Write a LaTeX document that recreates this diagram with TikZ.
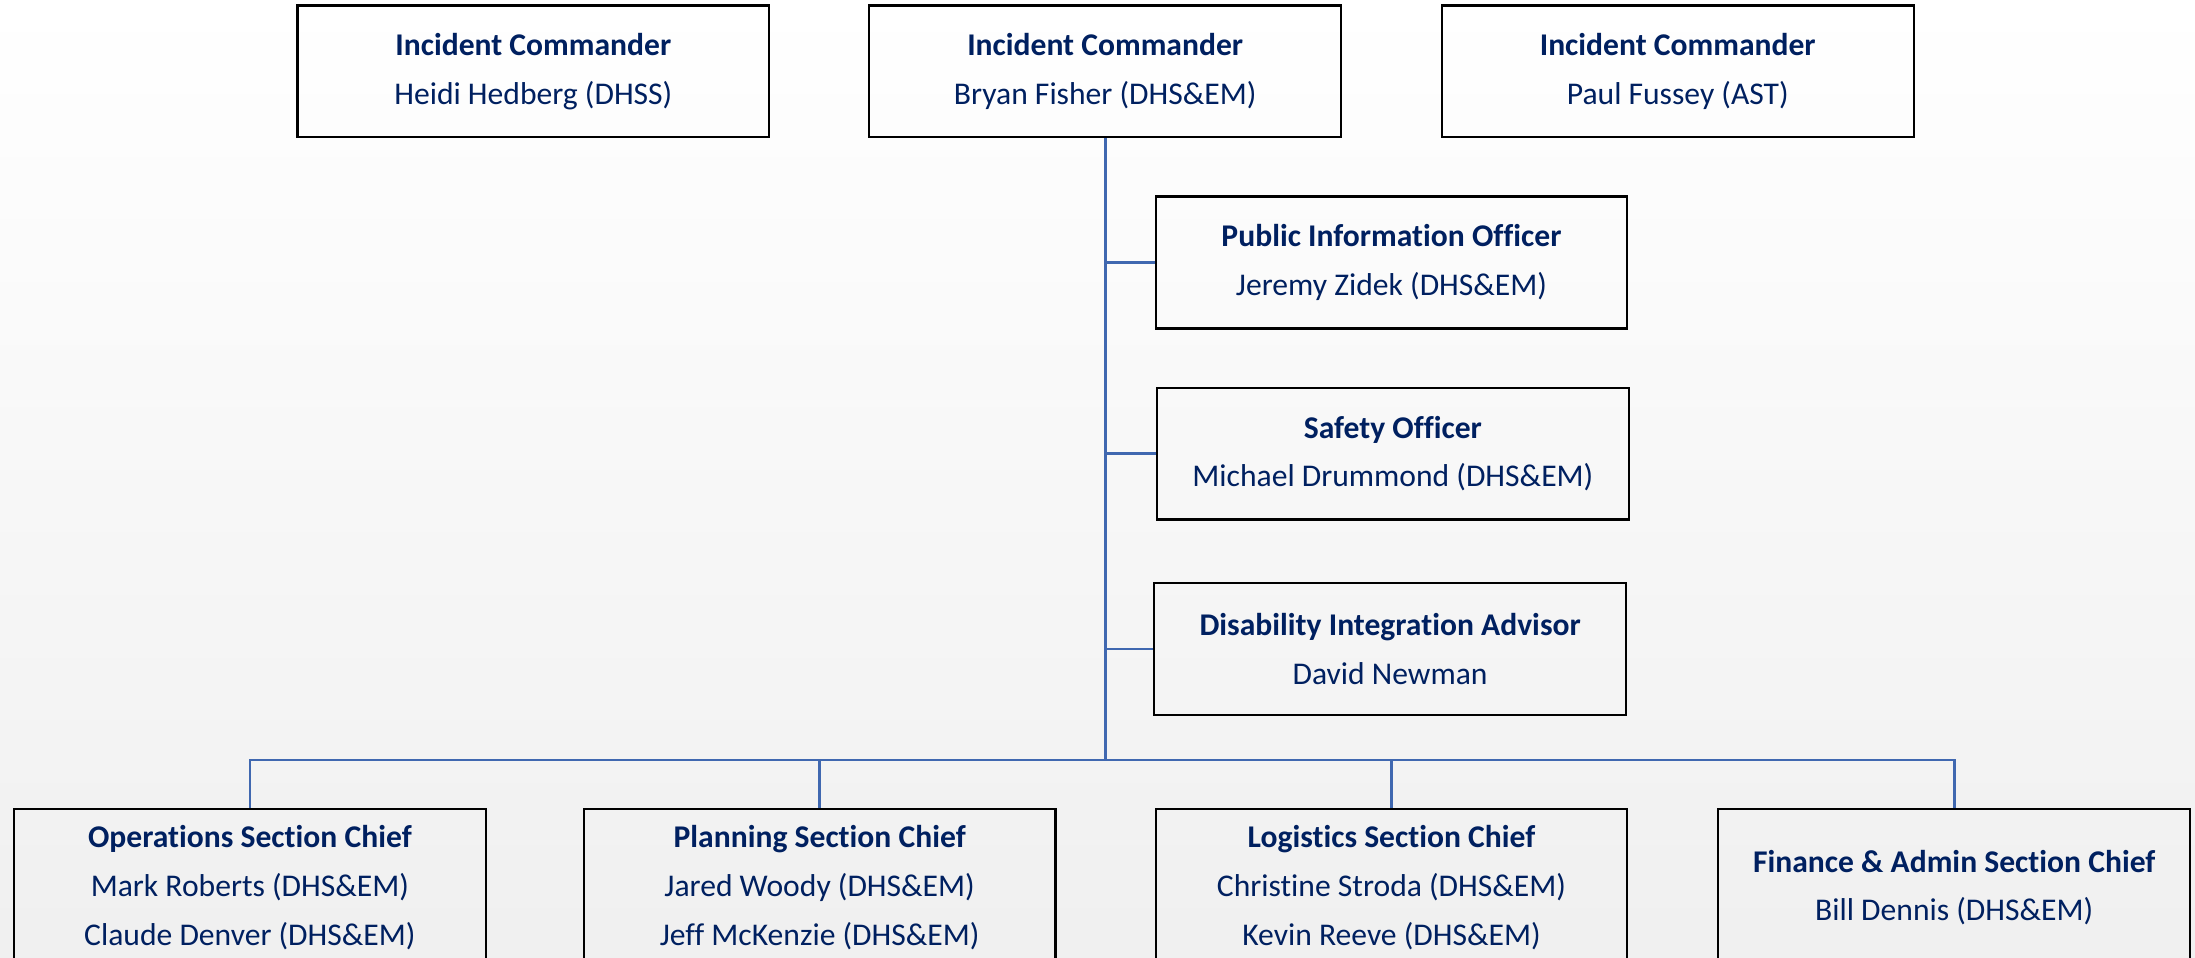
\documentclass[tikz,border=0pt]{standalone}
\usepackage{fontspec}
\setmainfont{Carlito}[Ligatures=NoCommon]
\definecolor{navy}{HTML}{002060}
\definecolor{linkblue}{HTML}{4068B0}
\begin{document}
\begin{tikzpicture}[x=0.014cm,y=-0.014cm,
    box/.style={draw=black,line width=0.6pt,minimum width=4.72cm,minimum height=1.32cm,
      align=center,text=navy,font=\fontsize{9}{13.9}\selectfont},
    chief/.style={box,minimum height=1.57cm},
    link/.style={draw=linkblue,line width=0.75pt}]
    \clip (0,0) rectangle (1568,684);
    \fill[top color=white,bottom color=black!6] (0,0) rectangle (1568,684);
    % command
    \node[box] (ic1) at (381,51) {\textbf{Incident Commander}\\Heidi Hedberg (DHSS)};
    \node[box] (ic2) at (789.5,51) {\textbf{Incident Commander}\\Bryan Fisher (DHS\&EM)};
    \node[box] (ic3) at (1198.5,51) {\textbf{Incident Commander}\\Paul Fussey (AST)};
    % staff
    \node[box] (pio) at (994,187.5) {\textbf{Public Information Officer}\\Jeremy Zidek (DHS\&EM)};
    \node[box] (safety) at (995,324) {\textbf{Safety Officer}\\Michael Drummond (DHS\&EM)};
    \node[box] (dia) at (993,463.5) {\textbf{Disability Integration Advisor}\\David Newman};
    % sections
    \node[chief] (ops) at (178.5,634) {\textbf{Operations Section Chief}\\Mark Roberts (DHS\&EM)\\Claude Denver (DHS\&EM)};
    \node[chief] (plan) at (585.5,634) {\textbf{Planning Section Chief}\\Jared Woody (DHS\&EM)\\Jeff McKenzie (DHS\&EM)};
    \node[chief] (log) at (994,634) {\textbf{Logistics Section Chief}\\Christine Stroda (DHS\&EM)\\Kevin Reeve (DHS\&EM)};
    \node[chief] (fin) at (1396,634) {\textbf{Finance \& Admin Section Chief}\\Bill Dennis (DHS\&EM)};
    \coordinate (bus) at (789.5,543);
    \draw[link] (ic2.south) -- (bus);
    \draw[link] (ic2.south |- pio.west) -- (pio.west);
    \draw[link] (ic2.south |- safety.west) -- (safety.west);
    \draw[link] (ic2.south |- dia.west) -- (dia.west);
    \draw[link] (ops.north) |- (bus) -| (fin.north);
    \draw[link] (plan.north) -- (plan.north |- bus);
    \draw[link] (log.north) -- (log.north |- bus);
\end{tikzpicture}
\end{document}
